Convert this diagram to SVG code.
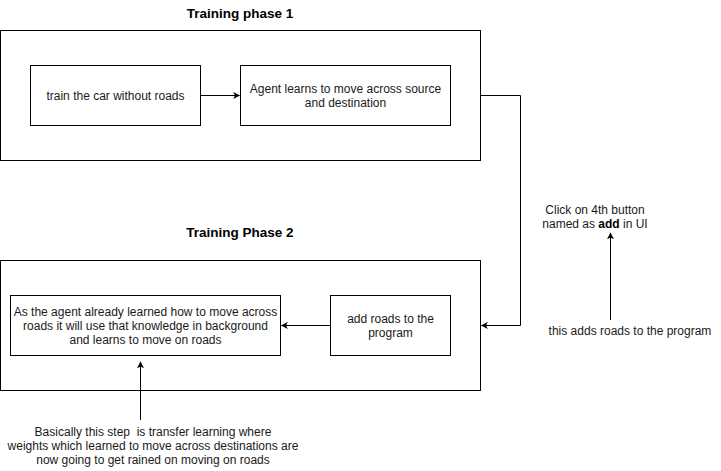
<svg xmlns="http://www.w3.org/2000/svg" width="721" height="471" viewBox="0 0 721 471">
<style>
.box{fill:#ffffff;stroke:#000000;stroke-width:1}
.t{font-family:"Liberation Sans",Arial,sans-serif;font-size:12px;fill:#1a1a1a;text-anchor:middle;white-space:pre}
.title{font-family:"Liberation Sans",Arial,sans-serif;font-size:13.5px;font-weight:bold;fill:#000000;text-anchor:middle}
.edge{fill:none;stroke:#000000;stroke-width:1}
</style>
<defs>
<marker id="arr" viewBox="0 0 10 10" refX="9" refY="5" markerWidth="7" markerHeight="7" markerUnits="userSpaceOnUse" orient="auto">
<path d="M0,0 L10,5 L0,10 L2.5,5 Z" fill="#000000"/>
</marker>
</defs>
<rect width="721" height="471" fill="#ffffff"/>
<g id="phase1-title"><text class="title" x="240" y="18">Training phase 1</text></g>
<g id="phase1"><rect class="box" x="0.5" y="30.5" width="480" height="130"/></g>
<g id="train-car"><rect class="box" x="30.5" y="65.5" width="170" height="60"/><text class="t" x="115.5" y="100">train the car without roads</text></g>
<g id="agent-learns"><rect class="box" x="240.5" y="65.5" width="210" height="60"/><text class="t" x="345.5" y="93">Agent learns to move across source</text><text class="t" x="345.5" y="107">and destination</text></g>
<g id="phase2-title"><text class="title" x="240" y="237">Training Phase 2</text></g>
<g id="phase2"><rect class="box" x="0.5" y="260.5" width="480" height="130"/></g>
<g id="agent-already"><rect class="box" x="10.5" y="295.5" width="270" height="60"/><text class="t" x="145.5" y="316">As the agent already learned how to move across</text><text class="t" x="145.5" y="330">roads it will use that knowledge in background</text><text class="t" x="145.5" y="344">and learns to move on roads</text></g>
<g id="add-roads"><rect class="box" x="330.5" y="295.5" width="120" height="60"/><text class="t" x="390.5" y="323">add roads to the</text><text class="t" x="390.5" y="337">program</text></g>
<g id="note-transfer"><text class="t" x="153" y="436" xml:space="preserve">Basically this step  is transfer learning where</text><text class="t" x="153" y="450">weights which learned to move across destinations are</text><text class="t" x="153" y="464">now going to get rained on moving on roads</text></g>
<g id="note-click"><text class="t" x="595" y="214">Click on 4th button</text><text class="t" x="595" y="228">named as <tspan font-weight="bold" fill="#000">add</tspan> in UI</text></g>
<g id="note-adds"><text class="t" x="630" y="335">this adds roads to the program</text></g>
<g id="connectors">
<path class="edge" d="M200.5,95.5 L239.5,95.5" marker-end="url(#arr)"/>
<path class="edge" d="M330.5,325.5 L281.5,325.5" marker-end="url(#arr)"/>
<path class="edge" d="M480.5,95.5 L520.5,95.5 L520.5,325.5 L481.5,325.5" marker-end="url(#arr)"/>
<path class="edge" d="M140.5,420 L140.5,362" marker-end="url(#arr)"/>
<path class="edge" d="M610.5,320 L610.5,233" marker-end="url(#arr)"/>
</g>
</svg>
